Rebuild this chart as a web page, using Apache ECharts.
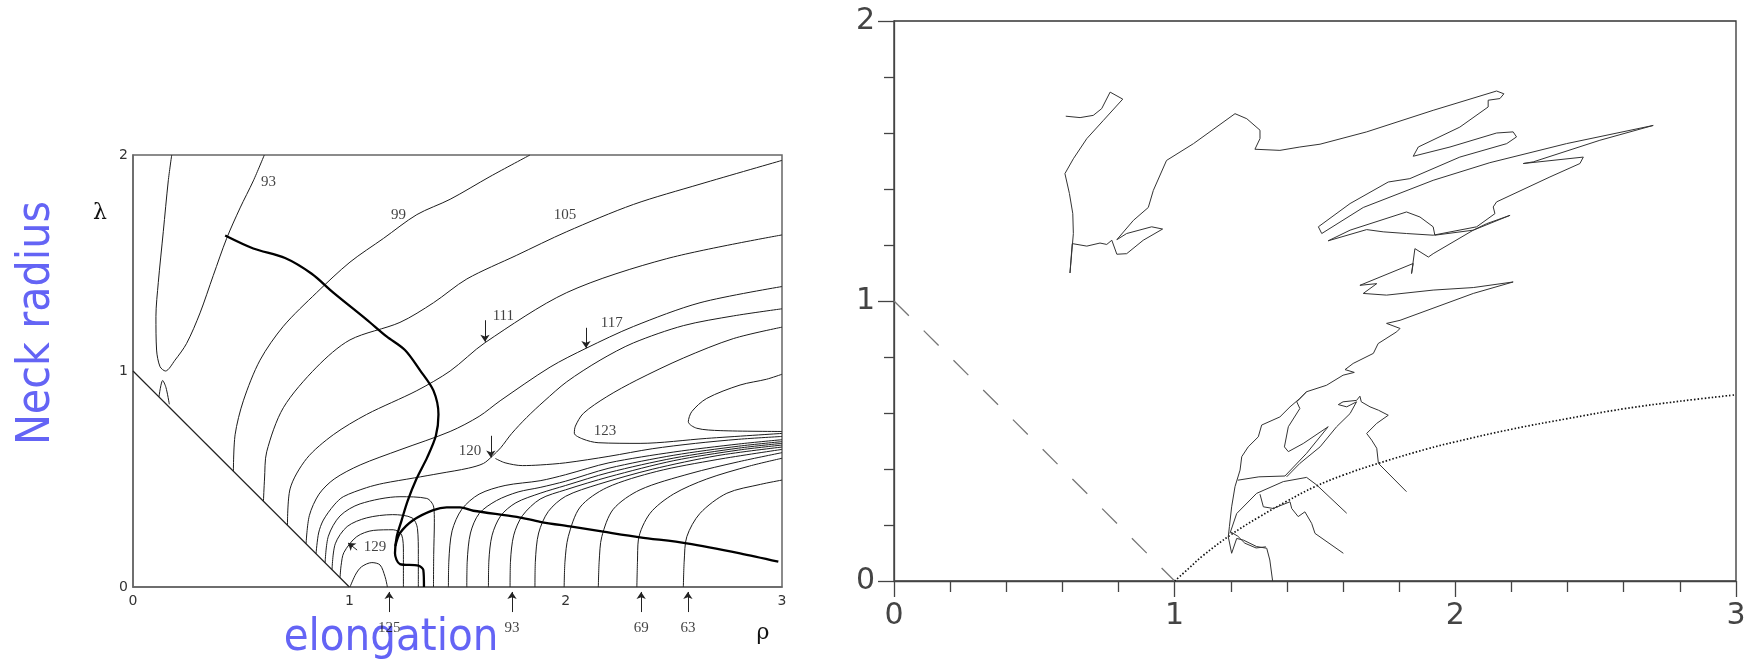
<!DOCTYPE html>
<html><head><meta charset="utf-8">
<script src="https://cdn.jsdelivr.net/npm/echarts@6/dist/echarts.min.js"></script>
<style>html,body{margin:0;padding:0;background:#fff}#c{width:1754px;height:662px}</style>
</head><body><div id="c"></div>
<script>
// ===== LEFT PANEL (rho, lambda) =====
const leftXTicks = ['0','1','2','3'];
const leftYTicks = ['0','1','2'];
const c93  = [[0.179,2.0],[0.163,1.88],[0.14,1.645],[0.117,1.41],[0.106,1.253],[0.109,1.097],[0.125,1.02],[0.15,1.0],[0.194,1.05],[0.248,1.128],[0.31,1.269],[0.371,1.442],[0.433,1.614],[0.495,1.755],[0.556,1.88],[0.607,2.0]];
const c93b = [[0.12,0.88],[0.137,0.956],[0.152,0.925],[0.168,0.846]];
const c99  = [[0.464,0.536],[0.472,0.705],[0.51,0.862],[0.587,1.05],[0.695,1.207],[0.849,1.363],[1.003,1.504],[1.158,1.614],[1.312,1.724],[1.466,1.795],[1.65,1.9],[1.835,2.0]];
const c105 = [[0.603,0.397],[0.608,0.5],[0.618,0.626],[0.695,0.83],[0.849,1.018],[1.003,1.144],[1.234,1.225],[1.389,1.316],[1.543,1.426],[1.774,1.536],[2.005,1.645],[2.313,1.771],[2.621,1.865],[3.0,1.975]];
const c111 = [[0.714,0.286],[0.726,0.454],[0.803,0.595],[0.926,0.705],[1.08,0.799],[1.312,0.909],[1.466,1.0],[1.627,1.131],[2.005,1.363],[2.467,1.52],[3.0,1.63]];
const c117 = [[0.8,0.2],[0.815,0.33],[0.86,0.43],[0.93,0.5],[1.05,0.565],[1.234,0.635],[1.466,0.72],[1.6,0.79],[1.697,0.862],[1.928,1.018],[2.094,1.105],[2.313,1.206],[2.621,1.316],[3.0,1.391]];
const c120 = [[0.846,0.154],[0.858,0.25],[0.88,0.31],[0.93,0.38],[0.972,0.418],[1.08,0.46],[1.157,0.48],[1.3,0.505],[1.419,0.526],[1.55,0.55],[1.62,0.572],[1.66,0.605],[1.7,0.645],[1.75,0.71],[1.82,0.785],[1.9,0.86],[2.005,0.95],[2.159,1.05],[2.313,1.13],[2.544,1.21],[2.775,1.255],[3.0,1.288]];
const c120arm = [[1.675,0.595],[1.72,0.575],[1.8,0.562],[1.882,0.565],[2.0,0.575],[2.2,0.605],[2.4,0.64],[2.6,0.665],[2.8,0.684],[3.0,0.697]];
const c123L = [[0.888,0.112],[0.903,0.235],[0.957,0.329],[1.05,0.385],[1.234,0.418],[1.358,0.41],[1.39,0.37],[1.393,0.3],[1.39,0.15],[1.389,0]];
const c126L = [[0.92,0.08],[0.935,0.2],[0.99,0.28],[1.08,0.32],[1.2,0.335],[1.29,0.32],[1.315,0.27],[1.319,0.15],[1.319,0]];
const c129 = [[0.957,0.043],[0.962,0.1],[0.975,0.16],[1.034,0.233],[1.111,0.262],[1.203,0.265],[1.242,0.241],[1.25,0.16],[1.25,0]];
const c135 = [[1.003,0],[1.03,0.06],[1.057,0.094],[1.104,0.113],[1.142,0.102],[1.165,0.048],[1.176,0]];
const c123R = [[3.0,0.711],[2.652,0.688],[2.344,0.665],[2.15,0.668],[2.08,0.685],[2.04,0.712],[2.045,0.745],[2.082,0.804],[2.19,0.881],[2.329,0.958],[2.544,1.06],[2.775,1.15],[3.0,1.203]];
const c126R = [[3.0,0.72],[2.714,0.724],[2.606,0.735],[2.567,0.765],[2.583,0.812],[2.652,0.873],[2.806,0.935],[2.929,0.962],[3.0,0.985]];
const f1458 = [[1.458,0],[1.46,0.12],[1.475,0.26],[1.52,0.36],[1.6,0.43],[1.72,0.47],[1.882,0.492],[2.0,0.52],[2.2,0.575],[2.5,0.625],[2.8,0.662],[3.0,0.682]];
const f1543 = [[1.543,0],[1.545,0.12],[1.56,0.25],[1.6,0.34],[1.68,0.40],[1.78,0.44],[1.882,0.461],[2.0,0.49],[2.2,0.55],[2.5,0.61],[2.8,0.652],[3.0,0.673]];
const f1643 = [[1.643,0],[1.645,0.12],[1.66,0.24],[1.7,0.33],[1.77,0.39],[1.882,0.434],[2.0,0.47],[2.2,0.53],[2.5,0.597],[2.8,0.643],[3.0,0.665]];
const f1743 = [[1.743,0],[1.745,0.12],[1.76,0.24],[1.8,0.33],[1.882,0.407],[2.0,0.45],[2.2,0.51],[2.5,0.585],[2.8,0.634],[3.0,0.657]];
const f1858 = [[1.858,0],[1.86,0.12],[1.875,0.25],[1.92,0.35],[2.0,0.42],[2.15,0.475],[2.4,0.545],[2.7,0.608],[3.0,0.648]];
const f1993 = [[1.993,0],[1.997,0.12],[2.012,0.233],[2.067,0.37],[2.19,0.46],[2.421,0.535],[2.7,0.59],[3.0,0.637]];
const f2151 = [[2.151,0],[2.155,0.12],[2.167,0.233],[2.22,0.36],[2.344,0.45],[2.575,0.525],[2.8,0.58],[3.0,0.622]];
const f2329 = [[2.329,0],[2.332,0.12],[2.336,0.218],[2.39,0.341],[2.498,0.43],[2.652,0.5],[2.85,0.56],[3.0,0.596]];
const f2544 = [[2.544,0],[2.548,0.12],[2.56,0.233],[2.621,0.341],[2.745,0.434],[2.9,0.475],[3.0,0.495]];
const thick1 = [[0.426,1.627],[0.556,1.567],[0.703,1.523],[0.826,1.45],[0.926,1.363],[1.08,1.238],[1.172,1.16],[1.257,1.097],[1.327,1.003],[1.389,0.909],[1.412,0.799],[1.40,0.70],[1.36,0.60],[1.31,0.50],[1.27,0.40],[1.242,0.31],[1.219,0.233],[1.211,0.156],[1.234,0.106],[1.319,0.099],[1.342,0.079],[1.345,0]];
const thick2 = [[1.213,0.19],[1.234,0.249],[1.296,0.31],[1.388,0.356],[1.45,0.369],[1.512,0.369],[1.573,0.353],[1.774,0.325],[1.882,0.302],[2.028,0.279],[2.174,0.256],[2.344,0.23],[2.56,0.202],[2.806,0.156],[2.983,0.117]];
const leftDiagonal = [[0,1],[1,0]];
const contourLabelText = ['93','99','105','111','117','120','123','129'];
const contourLabelPos  = [[0.626,1.877],[1.227,1.721],[1.997,1.721],[1.712,1.256],[2.213,1.222],[1.558,0.63],[2.182,0.72],[1.119,0.185]];
const bottomLabelText = ['125','93','69','63'];
const bottomLabelRho  = [1.184,1.752,2.349,2.565];
const bottomLabelLam  = -0.19;
const bottomArrowLam  = [-0.116,-0.023];
const downArrows = [[[1.627,1.235],[1.627,1.135]],[[2.094,1.2],[2.094,1.106]],[[1.654,0.70],[1.654,0.60]],[[1.036,0.171],[0.994,0.204]]];

// ===== RIGHT PANEL =====
const rightXTicks = ['0','1','2','3'];
const rightYTicks = ['0','1','2'];
const dashedLine = [[0,1],[1,0]];
const dottedCurve = [[1,0],[1.05,0.045],[1.1,0.09],[1.2,0.165],[1.3,0.228],[1.4,0.285],[1.5,0.337],[1.6,0.378],[1.725,0.42],[1.9,0.472],[2.0,0.497],[2.2,0.542],[2.4,0.58],[2.6,0.615],[2.8,0.642],[3.0,0.665]];
const trajMain = [[0.612,1.660],[0.663,1.655],[0.710,1.663],[0.740,1.687],[0.770,1.746],[0.815,1.721],[0.746,1.645],[0.687,1.580],[0.639,1.508],[0.609,1.455],[0.625,1.384],[0.637,1.312],[0.639,1.241],[0.631,1.146],[0.627,1.100],[0.635,1.205],[0.687,1.196],[0.734,1.207],[0.758,1.202],[0.776,1.217],[0.794,1.167],[0.829,1.169],[0.888,1.217],[0.957,1.257],[0.918,1.265],[0.829,1.241],[0.794,1.219],[0.853,1.288],[0.906,1.334],[0.924,1.395],[0.971,1.502],[1.067,1.562],[1.215,1.669],[1.257,1.651],[1.304,1.610],[1.304,1.580],[1.286,1.542],[1.375,1.538],[1.446,1.550],[1.518,1.560],[1.684,1.604],[1.921,1.681],[2.147,1.750],[2.173,1.740],[2.159,1.723],[2.117,1.717],[2.117,1.693],[2.016,1.621],[1.868,1.550],[1.850,1.517],[1.981,1.550],[2.147,1.600],[2.206,1.604],[2.218,1.586],[2.183,1.562],[2.016,1.514],[1.838,1.437],[1.761,1.425],[1.625,1.348],[1.512,1.265],[1.524,1.241],[1.672,1.334],[1.921,1.431],[2.123,1.494],[2.396,1.562],[2.705,1.627],[2.515,1.574],[2.278,1.497],[2.242,1.491],[2.456,1.514],[2.444,1.491],[2.337,1.443],[2.147,1.354],[2.135,1.336],[2.141,1.312],[2.076,1.265],[1.921,1.235],[1.826,1.241],[1.743,1.247],[1.684,1.255],[1.547,1.215],[1.625,1.253],[1.826,1.318],[1.874,1.300],[1.921,1.265],[1.927,1.235],[2.064,1.253],[2.195,1.306],[2.111,1.276],[2.064,1.253],[1.921,1.169],[1.904,1.157],[1.856,1.187],[1.844,1.098],[1.850,1.134],[1.660,1.056],[1.720,1.062],[1.672,1.027],[1.755,1.021],[1.921,1.039],[2.064,1.048],[2.206,1.068],[2.064,1.027],[1.803,0.931],[1.755,0.920],[1.803,0.902],[1.791,0.890],[1.725,0.848],[1.708,0.813],[1.636,0.777],[1.607,0.755],[1.640,0.745],[1.600,0.735],[1.541,0.699],[1.470,0.676],[1.446,0.652],[1.411,0.622],[1.375,0.586],[1.310,0.557],[1.298,0.515],[1.262,0.479],[1.239,0.444],[1.233,0.396],[1.215,0.337],[1.203,0.265],[1.195,0.194],[1.191,0.158],[1.203,0.099],[1.221,0.152],[1.245,0.146],[1.292,0.123],[1.328,0.117],[1.339,0.075],[1.349,0.0]];
const trajA = [[1.197,0.170],[1.221,0.241],[1.292,0.313],[1.387,0.355],[1.470,0.370],[1.506,0.343],[1.613,0.242]];
const trajB = [[1.304,0.310],[1.316,0.265],[1.351,0.259],[1.411,0.283],[1.417,0.259],[1.440,0.230],[1.464,0.247],[1.488,0.206],[1.500,0.170],[1.601,0.099]];
const trajC = [[1.225,0.36],[1.30,0.372],[1.393,0.375],[1.470,0.456],[1.547,0.551],[1.458,0.491],[1.405,0.462],[1.391,0.479],[1.405,0.551],[1.446,0.616],[1.435,0.640],[1.470,0.676]];
const trajD = [[1.399,0.372],[1.446,0.420],[1.518,0.479],[1.577,0.551],[1.625,0.598],[1.648,0.640],[1.613,0.622],[1.583,0.630],[1.600,0.640],[1.648,0.645],[1.660,0.660],[1.665,0.640],[1.696,0.622],[1.726,0.610],[1.761,0.592],[1.720,0.563],[1.684,0.527],[1.702,0.503],[1.720,0.474],[1.726,0.420],[1.826,0.319]];
const trajE = [[1.200,0.175],[1.225,0.160],[1.250,0.135],[1.290,0.118],[1.325,0.122]];

const chart = echarts.init(document.getElementById('c'), null, {renderer:'canvas'});
const thin = {color:'#1c1c1c', width:1};
const series = [];
const contourSet = [c93,c93b,c99,c105,c111,c117,c120,c120arm,c123L,c126L,c129,c135,c123R,c126R,f1458,f1543,f1643,f1743,f1858,f1993,f2151,f2329,f2544];
contourSet.forEach(d => series.push({type:'line', xAxisIndex:0, yAxisIndex:0, data:d, symbol:'none', smooth:0.3, lineStyle:thin, silent:true}));
series.push({type:'line', xAxisIndex:0, yAxisIndex:0, data:leftDiagonal, symbol:'none', lineStyle:{color:'#222', width:1.2}, silent:true});
[thick1, thick2].forEach(d => series.push({type:'line', xAxisIndex:0, yAxisIndex:0, data:d, symbol:'none', smooth:0.3, lineStyle:{color:'#000', width:2.3}, silent:true}));
series.push({type:'scatter', xAxisIndex:0, yAxisIndex:0, clip:false, symbolSize:1, itemStyle:{color:'rgba(0,0,0,0)'},
  data: contourLabelText.map((t,i)=>({name:t, value:contourLabelPos[i]})).concat(bottomLabelText.map((t,i)=>({name:t, value:[bottomLabelRho[i], bottomLabelLam]}))),
  label:{show:true, position:'inside', formatter:'{b}', fontFamily:'Liberation Serif', fontSize:15, color:'#111'}, silent:true});
series.push({type:'lines', coordinateSystem:'cartesian2d', xAxisIndex:0, yAxisIndex:0, clip:false, symbol:['none','arrow'], symbolSize:7,
  lineStyle:{color:'#222', width:1, opacity:1}, silent:true,
  data: downArrows.map(a=>({coords:a})).concat(bottomLabelRho.map(r=>({coords:[[r,bottomArrowLam[0]],[r,bottomArrowLam[1]]]})))});
// right panel
series.push({type:'line', xAxisIndex:1, yAxisIndex:1, data:dashedLine, symbol:'none', lineStyle:{color:'#777', width:1.3, type:[21,21]}, silent:true});
series.push({type:'line', xAxisIndex:1, yAxisIndex:1, data:dottedCurve, symbol:'none', smooth:0.4, lineStyle:{color:'#111', width:1.7, type:[1.5,2]}, silent:true});
[trajMain,trajA,trajB,trajC,trajD,trajE].forEach(d => series.push({type:'line', xAxisIndex:1, yAxisIndex:1, data:d, symbol:'none', lineStyle:{color:'#333', width:1}, silent:true}));

const leftAxisLine = {show:true, lineStyle:{color:'#666', width:1.5}};
const rTick = {color:'#444', width:1.3};
chart.setOption({
  animation:false,
  grid:[
    {left:133, top:155, width:649, height:432, show:true, borderColor:'#666', borderWidth:1.5, backgroundColor:'transparent', outerBoundsMode:'none', containLabel:false},
    {left:894, top:21, width:842, height:560, show:true, borderColor:'#333', borderWidth:1.3, backgroundColor:'transparent', outerBoundsMode:'none', containLabel:false}
  ],
  xAxis:[
    {gridIndex:0, type:'value', min:0, max:3, interval:1, axisLine:leftAxisLine, axisTick:{show:false}, splitLine:{show:false},
     axisLabel:{fontSize:14, color:'#333', margin:7, fontFamily:'DejaVu Sans', formatter:v=>leftXTicks[Math.round(v)]}},
    {gridIndex:1, type:'value', min:0, max:3, interval:1, axisLine:{show:true, lineStyle:rTick},
     axisTick:{show:true, inside:false, length:16, lineStyle:rTick}, minorTick:{show:true, splitNumber:5, length:11, lineStyle:rTick},
     splitLine:{show:false}, minorSplitLine:{show:false},
     axisLabel:{fontSize:30, color:'#444', margin:20, fontFamily:'DejaVu Sans', formatter:v=>rightXTicks[Math.round(v)]}}
  ],
  yAxis:[
    {gridIndex:0, type:'value', min:0, max:2, interval:1, axisLine:leftAxisLine, axisTick:{show:false}, splitLine:{show:false},
     axisLabel:{fontSize:14, color:'#333', margin:5, fontFamily:'DejaVu Sans', formatter:v=>leftYTicks[Math.round(v)]}},
    {gridIndex:1, type:'value', min:0, max:2, interval:1, axisLine:{show:true, lineStyle:rTick},
     axisTick:{show:true, inside:false, length:16, lineStyle:rTick}, minorTick:{show:true, splitNumber:5, length:10, lineStyle:rTick},
     splitLine:{show:false}, minorSplitLine:{show:false},
     axisLabel:{fontSize:30, color:'#444', margin:19, fontFamily:'DejaVu Sans', formatter:v=>rightYTicks[Math.round(v)]}}
  ],
  graphic:[
    {type:'text', x:37, y:323, rotation:Math.PI/2, style:{text:'Neck radius', font:'46px "DejaVu Sans Condensed", "DejaVu Sans"', fill:'#6464f5', textAlign:'center', textVerticalAlign:'middle'}},
    {type:'text', x:391, y:638, style:{text:'elongation', font:'45px "DejaVu Sans Condensed", "DejaVu Sans"', fill:'#6464f5', textAlign:'center', textVerticalAlign:'middle'}},
    {type:'text', x:100, y:213, style:{text:'λ', font:'22px "DejaVu Serif"', fill:'#111', textAlign:'center', textVerticalAlign:'middle'}},
    {type:'text', x:763, y:633, style:{text:'ρ', font:'22px "DejaVu Serif"', fill:'#111', textAlign:'center', textVerticalAlign:'middle'}}
  ],
  series: series
});
</script></body></html>
